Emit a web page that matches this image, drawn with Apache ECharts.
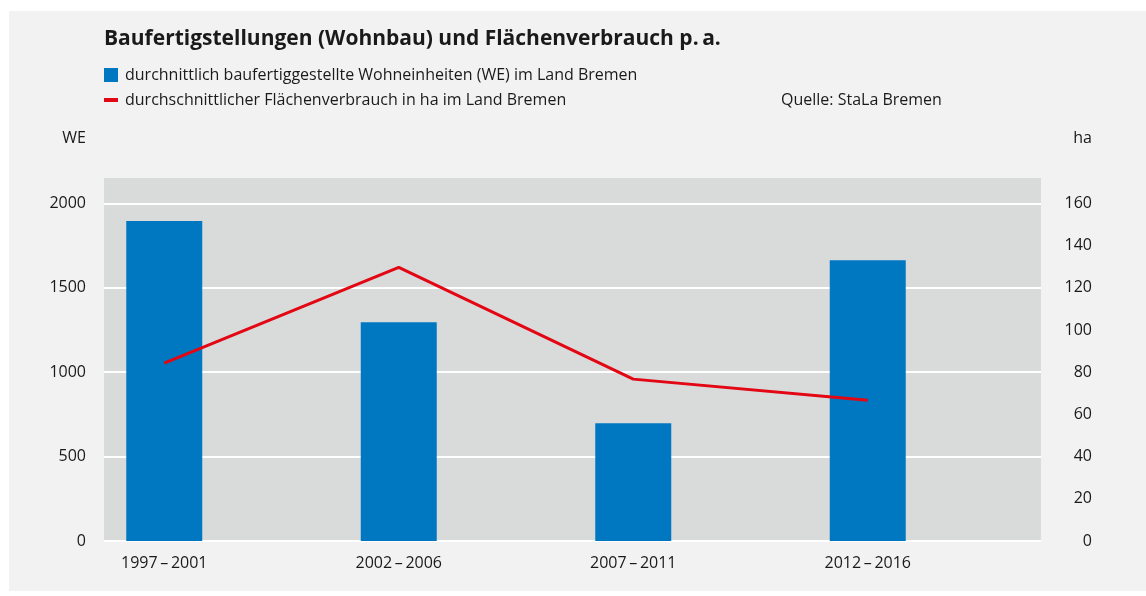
<!DOCTYPE html>
<html>
<head>
<meta charset="utf-8">
<script src="https://cdn.jsdelivr.net/npm/echarts@6/dist/echarts.min.js"></script>
<style>
  html, body { margin: 0; padding: 0; background: #fff; }
  #chart { width: 1146px; height: 596px; }
</style>
</head>
<body>
<div id="chart"></div>
<script>
// values
const periods = ["1997\u2009\u2013\u20092001", "2002\u2009\u2013\u20092006", "2007\u2009\u2013\u20092011", "2012\u2009\u2013\u20092016"];
const dwellings = [1895, 1296, 698, 1663];   // WE
const landUse = [84.3, 129.7, 76.7, 66.7];   // ha

const legendNames = [
  "durchnittlich baufertiggestellte Wohneinheiten (WE) im Land Bremen",
  "durchschnittlicher Flächenverbrauch in ha im Land Bremen"
];

const FONT = "Open Sans";
const TXT = "#1a1a1a";
const BLUE = "#0078c1";
const RED = "#e30613";

let dom = document.getElementById("chart");
let myChart = echarts.init(dom, null, { renderer: "canvas" });

let option = {
  animation: false,
  textStyle: { fontFamily: FONT },
  title: {
    text: "Baufertigstellungen (Wohnbau) und Flächenverbrauch p.\u2009a.",
    left: 99,
    top: 24,
    textStyle: { fontFamily: FONT, fontSize: 21, fontWeight: "bold", color: TXT }
  },
  graphic: [
    { type: "rect", z: -10, shape: { x: 9, y: 11, width: 1137, height: 580 }, style: { fill: "#f2f2f2" } },
    { type: "rect", shape: { x: 104, y: 68, width: 14, height: 14 }, style: { fill: BLUE } },
    { type: "text", x: 125, y: 75, style: { text: legendNames[0], font: "16px '" + FONT + "'", fill: TXT, verticalAlign: "middle" } },
    { type: "rect", shape: { x: 104, y: 98, width: 14, height: 4 }, style: { fill: RED } },
    { type: "text", x: 125, y: 100, style: { text: legendNames[1], font: "16px '" + FONT + "'", fill: TXT, verticalAlign: "middle" } },
    { type: "text", x: 781, y: 100, style: { text: "Quelle: StaLa Bremen", font: "16px '" + FONT + "'", fill: TXT, verticalAlign: "middle" } },
    { type: "text", x: 86, y: 138, style: { text: "WE", font: "16px '" + FONT + "'", fill: TXT, align: "right", verticalAlign: "middle" } },
    { type: "text", x: 1092, y: 138, style: { text: "ha", font: "16px '" + FONT + "'", fill: TXT, align: "right", verticalAlign: "middle" } }
  ],
  grid: [
    // background + value axes
    { left: 104, right: 105, top: 178, bottom: 55, show: true, backgroundColor: "#d9dada", borderWidth: 0 },
    // category band for the marks
    { left: 47, right: 161, top: 178, bottom: 55 }
  ],
  xAxis: [
    { type: "category", gridIndex: 0, data: periods, show: false },
    {
      type: "category", gridIndex: 1, data: periods,
      axisLine: { show: false }, axisTick: { show: false },
      axisLabel: { color: TXT, fontSize: 16, margin: 14, fontFamily: FONT }
    }
  ],
  yAxis: [
    {
      type: "value", gridIndex: 0, min: 0, max: 2150, interval: 500,
      axisLine: { show: false }, axisTick: { show: false },
      axisLabel: { color: TXT, fontSize: 16, margin: 18, showMaxLabel: false, fontFamily: FONT,
        formatter: function (v) { return String(v); } },
      splitLine: { show: true, showMaxLine: false, lineStyle: { color: "#ffffff", width: 2 } }
    },
    {
      type: "value", gridIndex: 0, position: "right", min: 0, max: 172, interval: 20,
      axisLine: { show: false }, axisTick: { show: false },
      axisLabel: { color: TXT, fontSize: 16, margin: 51, align: "right", showMaxLabel: false, fontFamily: FONT },
      splitLine: { show: false }
    },
    { type: "value", gridIndex: 1, min: 0, max: 2150, show: false, splitLine: { show: false } },
    { type: "value", gridIndex: 1, min: 0, max: 172, show: false, splitLine: { show: false } }
  ],
  series: [
    {
      name: legendNames[0],
      type: "bar",
      xAxisIndex: 1,
      yAxisIndex: 2,
      data: dwellings,
      barWidth: 76,
      itemStyle: { color: BLUE },
      z: 3
    },
    {
      name: legendNames[1],
      type: "line",
      xAxisIndex: 1,
      yAxisIndex: 3,
      data: landUse,
      showSymbol: false,
      symbol: "none",
      lineStyle: { color: RED, width: 3 },
      z: 4
    }
  ]
};

myChart.setOption(option);

window.addEventListener("resize", function () {
  if (myChart) {
    myChart.resize();
  }
});
</script>
</body>
</html>
